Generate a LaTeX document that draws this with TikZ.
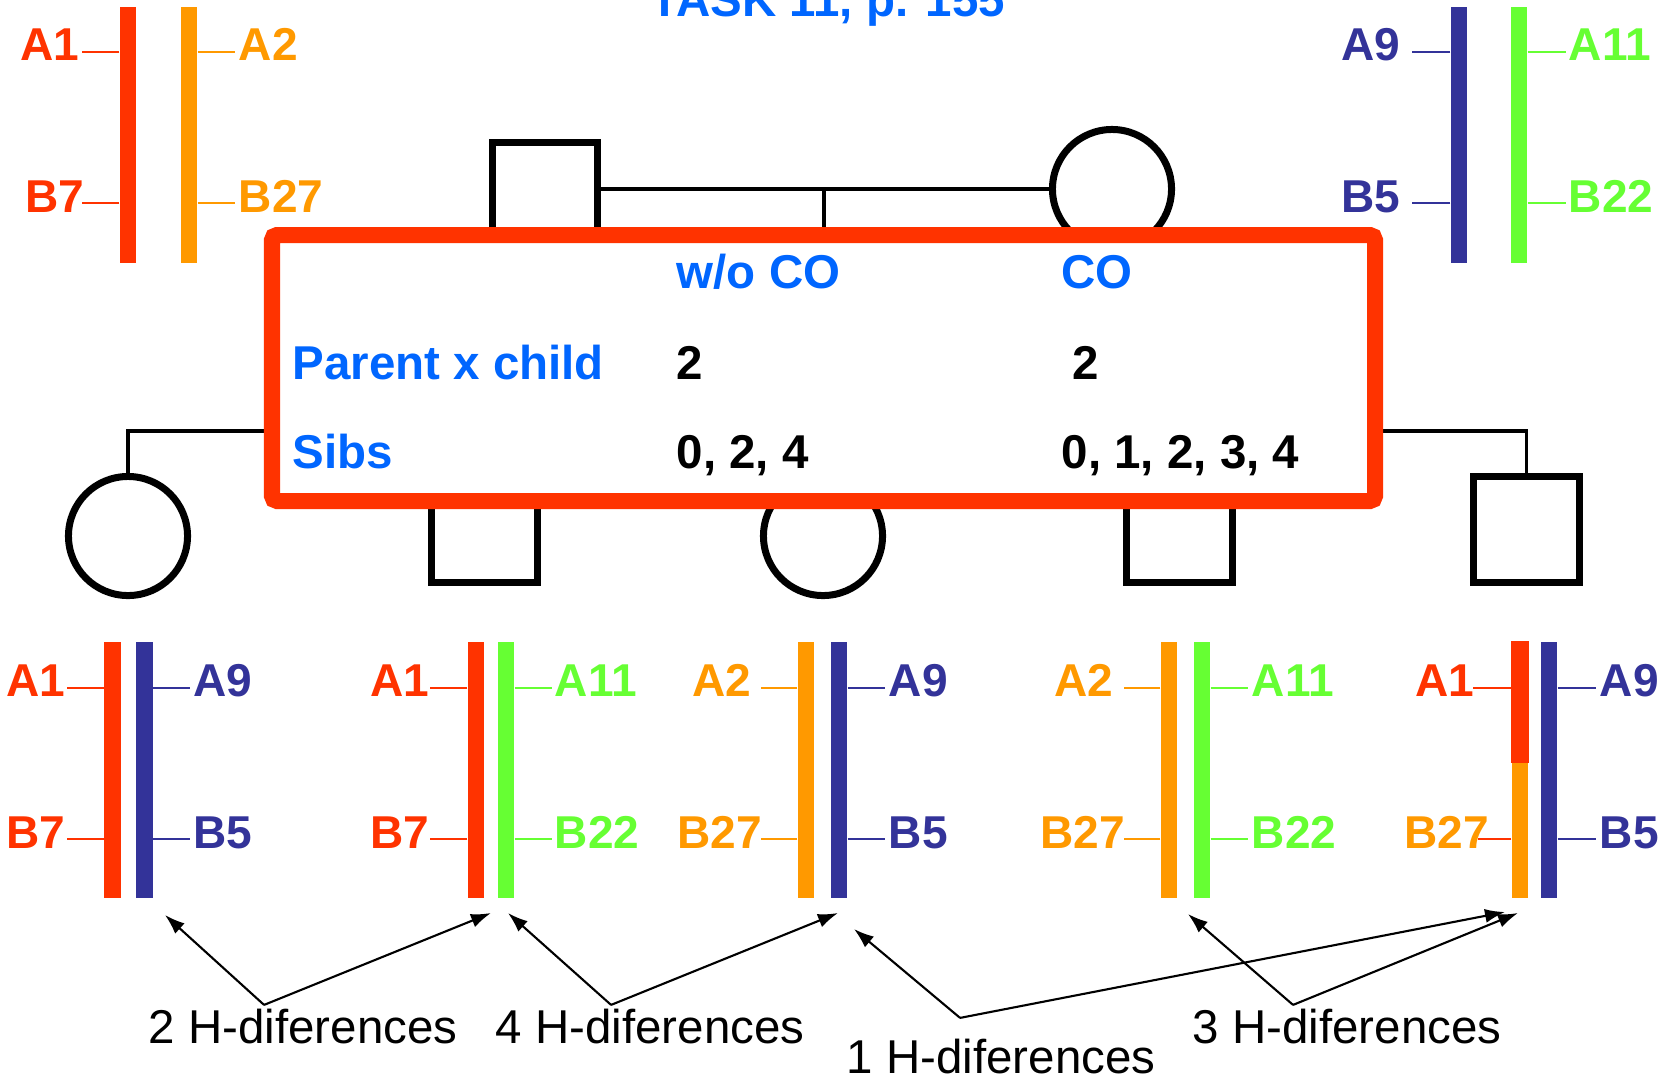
\documentclass[tikz,border=0pt]{standalone}
\usepackage{fontspec}
\setmainfont{Liberation Sans}
\usepackage{tikz}
\usetikzlibrary{arrows.meta}
\definecolor{cred}{RGB}{255,51,0}
\definecolor{corange}{RGB}{255,153,0}
\definecolor{cblue}{RGB}{51,51,153}
\definecolor{cgreen}{RGB}{102,255,51}
\definecolor{ctext}{RGB}{0,102,255}
\newcommand\bigbf{\fontsize{13.5}{16}\selectfont\bfseries}
\newcommand\lblbf{\fontsize{13.1}{16}\selectfont\bfseries}
\newcommand\bigrm{\fontsize{13.5}{16}\selectfont}
\tikzset{bar/.style={rectangle,inner sep=0,minimum width=0.16cm,minimum height=2.56cm},
  tk/.style={line width=0.7pt},
  lft/.style={anchor=base east,inner sep=0,yshift=-0.09cm,font=\lblbf},
  rgt/.style={anchor=base west,inner sep=0,yshift=-0.09cm,font=\lblbf},
  sq/.style={rectangle,draw,line width=0.07cm,minimum size=1.05cm,fill=white},
  cir/.style={circle,draw,line width=0.07cm,minimum size=1.19cm,fill=white},
  ln/.style={line width=0.035cm},
  txt/.style={anchor=base west,inner sep=0,font=\bigbf},
  hd/.style={anchor=base west,inner sep=0,font=\bigrm},
  arr/.style={-{Latex[length=0.2cm,width=0.14cm]},line width=0.6pt}}

\begin{document}
\begin{tikzpicture}[x=0.01cm,y=0.01cm]
    \useasboundingbox (0,0) rectangle (1672,-1078);
    \node[ctext,txt] (title) at (650,-16) {TASK 11, p. 155};

    \node[bar,fill=cred] (u1) at (128,-135) {};
    \node[bar,fill=corange] (u2) at (189,-135) {};
    \node[bar,fill=cblue] (u3) at (1459,-135) {};
    \node[bar,fill=cgreen] (u4) at (1519,-135) {};
    \draw[tk,cred] ([yshift=0.83cm]u1.west) -- ++(-37,0) node[lft,cred,xshift=-0.02cm] (u1a) {A1};
    \draw[tk,cred] ([yshift=-0.68cm]u1.west) -- ++(-37,0) node[lft,cred,xshift=0.03cm] (u1b) {B7};
    \draw[tk,corange] ([yshift=0.83cm]u2.east) -- ++(37,0) node[rgt,corange,xshift=0.03cm] (u2a) {A2};
    \draw[tk,corange] ([yshift=-0.68cm]u2.east) -- ++(37,0) node[rgt,corange,xshift=0.03cm] (u2b) {B27};
    \draw[tk,cblue] ([yshift=0.83cm]u3.west) -- ++(-38,0) node[lft,cblue,xshift=-0.11cm] (u3a) {A9};
    \draw[tk,cblue] ([yshift=-0.68cm]u3.west) -- ++(-38,0) node[lft,cblue,xshift=-0.11cm] (u3b) {B5};
    \draw[tk,cgreen] ([yshift=0.83cm]u4.east) -- ++(38,0) node[rgt,cgreen,xshift=0.02cm] (u4a) {A11};
    \draw[tk,cgreen] ([yshift=-0.68cm]u4.east) -- ++(38,0) node[rgt,cgreen,xshift=0.02cm] (u4b) {B22};

    \node[sq] (fa) at (545,-195) {};
    \node[cir] (mo) at (1112,-189) {};
    \node[cir] (k1) at (128,-536) {};
    \node[sq] (k2) at (484.5,-529.5) {};
    \node[cir] (k3) at (823,-536) {};
    \node[sq] (k4) at (1179.5,-529.5) {};
    \node[sq] (k5) at (1526.5,-529.5) {};
    \coordinate (mid) at (824,-189);
    \coordinate (sib) at (824,-431);
    \draw[ln] (fa.east |- mo) -- (mo.west);
    \draw[ln] (mid) -- (sib);
    \draw[ln] (k1.north) |- (sib) -| (k5.north);
    \draw[ln] (k2.north) -- (k2.north |- sib);
    \draw[ln] (k3.north) -- (k3.north |- sib);
    \draw[ln] (k4.north) -- (k4.north |- sib);

    \draw[cred,line width=0.16cm,fill=white,rounded corners=0.05cm] (272,-235) rectangle (1375,-501);
    \node[ctext,txt] (h1) at (676,-288) {w/o CO};
    \node[ctext,txt] (h2) at (1061,-288) {CO};
    \node[ctext,txt] (r1) at (292,-379) {Parent x child};
    \node[txt] (r1a) at (676,-379) {2};
    \node[txt] (r1b) at (1072,-379) {2};
    \node[ctext,txt] (r2) at (292,-468) {Sibs};
    \node[txt] (r2a) at (676,-468) {0, 2, 4};
    \node[txt] (r2b) at (1061,-468) {0, 1, 2, 3, 4};

    \node[bar,fill=cred] (p1a) at (112.5,-770) {};
    \node[bar,fill=cblue] (p1b) at (144.5,-770) {};
    \node[bar,fill=cred] (p2a) at (476,-770) {};
    \node[bar,fill=cgreen] (p2b) at (506,-770) {};
    \node[bar,fill=corange] (p3a) at (806,-770) {};
    \node[bar,fill=cblue] (p3b) at (839,-770) {};
    \node[bar,fill=corange] (p4a) at (1169,-770) {};
    \node[bar,fill=cgreen] (p4b) at (1202,-770) {};
    \node[bar,fill=corange] (p5a) at (1520,-770) {};
    \fill[cred] (p5a.north west) rectangle ([yshift=0.07cm]p5a.east);
    \node[bar,fill=cblue] (p5b) at (1549,-770) {};

    \draw[tk,cred] ([yshift=0.82cm]p1a.west) -- ++(-37,0) node[lft,cred] (p1a1) {A1};
    \draw[tk,cred] ([yshift=-0.69cm]p1a.west) -- ++(-37,0) node[lft,cred] (p1a2) {B7};
    \draw[tk,cblue] ([yshift=0.82cm]p1b.east) -- ++(37,0) node[rgt,cblue,xshift=0.02cm] (p1b1) {A9};
    \draw[tk,cblue] ([yshift=-0.69cm]p1b.east) -- ++(37,0) node[rgt,cblue,xshift=0.02cm] (p1b2) {B5};

    \draw[tk,cred] ([yshift=0.82cm]p2a.west) -- ++(-37,0) node[lft,cred] (p2a1) {A1};
    \draw[tk,cred] ([yshift=-0.69cm]p2a.west) -- ++(-37,0) node[lft,cred] (p2a2) {B7};
    \draw[tk,cgreen] ([yshift=0.82cm]p2b.east) -- ++(37,0) node[rgt,cgreen,xshift=0.02cm] (p2b1) {A11};
    \draw[tk,cgreen] ([yshift=-0.69cm]p2b.east) -- ++(37,0) node[rgt,cgreen,xshift=0.02cm] (p2b2) {B22};

    \draw[tk,corange] ([yshift=0.82cm]p3a.west) -- ++(-36,0) node[lft,corange,xshift=-0.09cm] (p3a1) {A2};
    \draw[tk,corange] ([yshift=-0.69cm]p3a.west) -- ++(-36,0) node[lft,corange,xshift=0.02cm] (p3a2) {B27};
    \draw[tk,cblue] ([yshift=0.82cm]p3b.east) -- ++(37,0) node[rgt,cblue,xshift=0.03cm] (p3b1) {A9};
    \draw[tk,cblue] ([yshift=-0.69cm]p3b.east) -- ++(37,0) node[rgt,cblue,xshift=0.03cm] (p3b2) {B5};

    \draw[tk,corange] ([yshift=0.82cm]p4a.west) -- ++(-36,0) node[lft,corange,xshift=-0.1cm] (p4a1) {A2};
    \draw[tk,corange] ([yshift=-0.69cm]p4a.west) -- ++(-36,0) node[lft,corange,xshift=0.02cm] (p4a2) {B27};
    \draw[tk,cgreen] ([yshift=0.82cm]p4b.east) -- ++(37,0) node[rgt,cgreen,xshift=0.03cm] (p4b1) {A11};
    \draw[tk,cgreen] ([yshift=-0.69cm]p4b.east) -- ++(37,0) node[rgt,cgreen,xshift=0.03cm] (p4b2) {B22};

    \draw[tk,cred] ([yshift=0.82cm]p5a.west) -- ++(-38,0) node[lft,cred,xshift=0.02cm] (p5a1) {A1};
    \draw[tk,cred] ([yshift=-0.69cm]p5a.west) -- ++(-33,0) node[lft,corange,xshift=0.12cm] (p5a2) {B27};
    \draw[tk,cblue] ([yshift=0.82cm]p5b.east) -- ++(38,0) node[rgt,cblue,xshift=0.03cm] (p5b1) {A9};
    \draw[tk,cblue] ([yshift=-0.69cm]p5b.east) -- ++(38,0) node[rgt,cblue,xshift=0.03cm] (p5b2) {B5};

    \node[hd] (d2) at (148,-1043) {2 H-diferences};
    \node[hd] (d4) at (495,-1043) {4 H-diferences};
    \node[hd] (d1) at (846,-1073) {1 H-diferences};
    \node[hd] (d3) at (1192,-1043) {3 H-diferences};
    \coordinate (e1) at (165,-915);
    \coordinate (e2) at (491,-913);
    \coordinate (e3) at (508,-913);
    \coordinate (e4) at (838,-913);
    \coordinate (e5) at (854,-929);
    \coordinate (e6) at (1505,-912);
    \coordinate (e7) at (1188,-914);
    \coordinate (e8) at (1518,-913);
    \draw[arr] ([xshift=1.16cm,yshift=0.03cm]d2.north west) -- (e1);
    \draw[arr] ([xshift=1.16cm,yshift=0.03cm]d2.north west) -- (e2);
    \draw[arr] ([xshift=1.16cm,yshift=0.03cm]d4.north west) -- (e3);
    \draw[arr] ([xshift=1.16cm,yshift=0.03cm]d4.north west) -- (e4);
    \draw[arr] ([xshift=1.14cm,yshift=0.2cm]d1.north west) -- (e5);
    \draw[arr] ([xshift=1.14cm,yshift=0.2cm]d1.north west) -- (e6);
    \draw[arr] ([xshift=1.01cm,yshift=0.03cm]d3.north west) -- (e7);
    \draw[arr] ([xshift=1.01cm,yshift=0.03cm]d3.north west) -- (e8);
\end{tikzpicture}
\end{document}
